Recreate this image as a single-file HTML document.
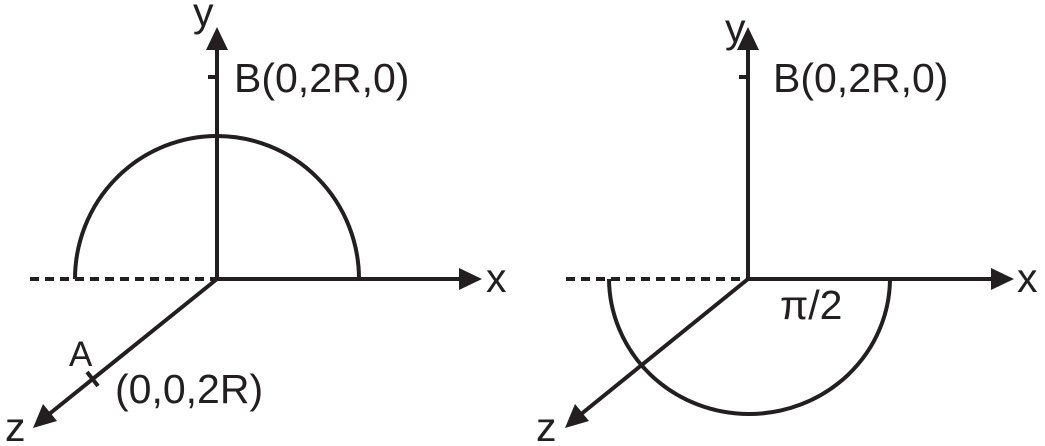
<!DOCTYPE html>
<html><head><style>body{margin:0;background:#fff}svg{display:block}</style></head><body>
<svg width="1045" height="446" viewBox="0 0 1045 446" xmlns="http://www.w3.org/2000/svg" font-family="Liberation Sans, sans-serif" fill="#231f20">
<g stroke="#231f20" stroke-width="4" fill="none">
<line x1="217" y1="279" x2="217" y2="45"/>
<line x1="208" y1="77" x2="217" y2="77"/>
<line x1="217" y1="279" x2="462" y2="279"/>
<line x1="30" y1="279" x2="217" y2="279" stroke-dasharray="9,6"/>
<path d="M75 279 A142 143 0 0 1 217 136 A142 143 0 0 1 359 279"/>
<line x1="217" y1="279" x2="48" y2="415"/>
<line x1="87" y1="372" x2="98" y2="386"/>
<line x1="748" y1="279" x2="748" y2="45"/>
<line x1="739" y1="77" x2="748" y2="77"/>
<line x1="748" y1="279" x2="995" y2="279"/>
<line x1="566" y1="279" x2="748" y2="279" stroke-dasharray="9,6"/>
<path d="M609 279 A140 136 0 0 0 749 414 A141 136 0 0 0 890 279"/>
<line x1="748" y1="279" x2="580" y2="415"/>
</g>
<g stroke="none">
<polygon points="217,27 206,50 228,50"/>
<polygon points="482,279 459,268 459,290"/>
<polygon points="33,428 43,404 57,421"/>
<polygon points="748,27 737,50 759,50"/>
<polygon points="1014,279 991,268 991,290"/>
<polygon points="565,428 575,404 589,421"/>
</g>
<g font-size="41">
<text x="193" y="26">y</text>
<text x="234" y="92">B(0,2R,0)</text>
<text x="486" y="292">x</text>
<text x="115" y="403">(0,0,2R)</text>
<text x="69" y="366" font-size="35">A</text>
<text x="5" y="441">z</text>
<text x="725" y="42">y</text>
<text x="773" y="92">B(0,2R,0)</text>
<text x="1017" y="292">x</text>
<text x="536" y="441">z</text>
<text x="780" y="319">π/2</text>
</g>
</svg>
</body></html>
